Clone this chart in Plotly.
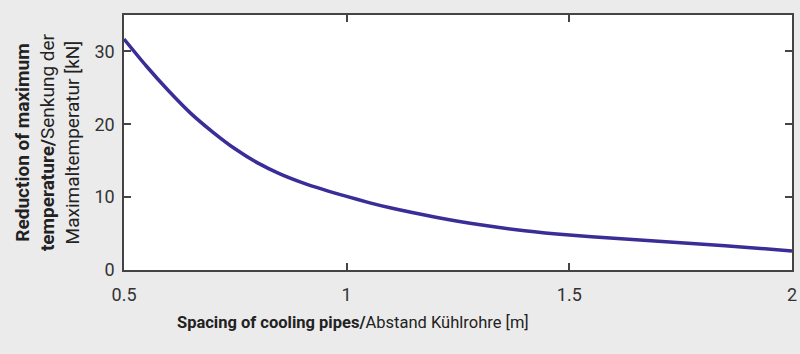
import plotly.graph_objects as go

spacing_m = [0.5, 0.55, 0.6, 0.65, 0.7, 0.75, 0.8, 0.85, 0.9, 0.95, 1.0, 1.05, 1.1, 1.2, 1.3, 1.4, 1.5, 1.6, 1.7, 1.8, 1.9, 2.0]
reduction_kN = [31.7, 28.0, 24.6, 21.5, 18.9, 16.6, 14.7, 13.2, 12.0, 11.0, 10.1, 9.25, 8.5, 7.25, 6.2, 5.4, 4.8, 4.35, 3.95, 3.55, 3.1, 2.6]

x_ticks = [0.5, 1, 1.5, 2]
x_ticklabels = ["0.5", "1", "1.5", "2"]
y_ticks = [0, 10, 20, 30]

x_title = "<b>Spacing of cooling pipes/</b>Abstand Kühlrohre [m]"
y_title = "<b>Reduction of maximum</b><br><b>temperature/</b>Senkung der<br>Maximaltemperatur [kN]"

FONT = "Roboto"
AXIS_COLOR = "#444444"

fig = go.Figure()
fig.add_trace(go.Scatter(
    x=spacing_m, y=reduction_kN, mode="lines",
    line=dict(color="#3a2d98", width=3.5, shape="spline", smoothing=0.6),
    showlegend=False, hoverinfo="skip",
))

axis_common = dict(
    showline=True, linecolor=AXIS_COLOR, linewidth=1.5, mirror="ticks",
    ticks="inside", ticklen=7, tickwidth=1.5, tickcolor=AXIS_COLOR,
    showgrid=False, zeroline=False, automargin=False,
    tickfont=dict(family=FONT, size=18, color="#333333"),
)

fig.update_xaxes(
    range=[0.5, 2], tickvals=x_ticks, ticktext=x_ticklabels,
    ticklabelstandoff=8,
    **axis_common,
)
fig.update_yaxes(
    range=[0, 35], tickvals=y_ticks, ticklabelstandoff=4,
    title=dict(text=y_title, font=dict(family=FONT, size=19, color="#222222"), standoff=10),
    **axis_common,
)

fig.add_annotation(
    text=x_title, xref="paper", yref="paper", x=0.343, y=0,
    xanchor="center", yanchor="middle", yshift=-52, showarrow=False,
    font=dict(family=FONT, size=16.5, color="#222222"),
)

fig.update_layout(
    width=800, height=354,
    margin=dict(l=124, r=8, t=15, b=84),
    paper_bgcolor="#ebebeb", plot_bgcolor="#ffffff",
    font=dict(family=FONT),
)

fig.write_html("out.html")
